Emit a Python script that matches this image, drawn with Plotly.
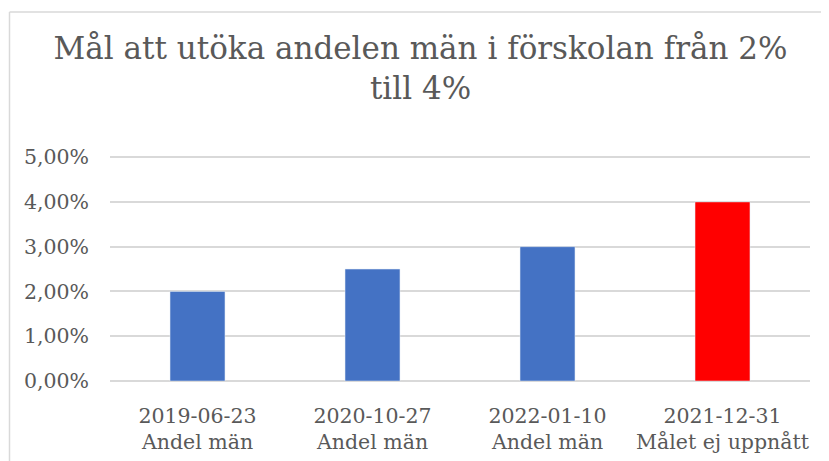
import plotly.graph_objects as go

categories = ["2019-06-23<br>Andel män", "2020-10-27<br>Andel män",
              "2022-01-10<br>Andel män", "2021-12-31<br>Målet ej uppnått"]
values = [0.02, 0.025, 0.03, 0.04]
colors = ["#4472C4", "#4472C4", "#4472C4", "#FF0000"]
tick_vals = [0, 0.01, 0.02, 0.03, 0.04, 0.05]
title_text = "Mål att utöka andelen män i förskolan från 2%<br>till 4%"

# page body has an 8px margin; figure is offset by it
OFF = 8
W, H = 829 - OFF, 461 - OFF
L, R, T, B = 110 - OFF, 19, 154 - OFF, 80
pw, ph = W - L - R, H - T - B

def px(x):
    return (x - OFF - L) / pw

def py(y):
    return (H - B - (y - OFF)) / ph

fig = go.Figure(go.Bar(x=categories, y=values, marker_color=colors,
                       width=0.314, hoverinfo="skip"))

fig.update_layout(
    width=W, height=H,
    margin=dict(l=L, r=R, t=T, b=B, pad=0, autoexpand=False),
    paper_bgcolor="white", plot_bgcolor="white",
    separators=",.",
    font=dict(family="DejaVu Serif", color="#595959", size=20.5),
    title=dict(text=title_text,
               x=(420.5 - OFF) / W, xanchor="center", xref="container",
               y=1 - (59 - OFF) / H, yanchor="middle", yref="container",
               font=dict(family="DejaVu Serif", size=31, color="#595959")),
    showlegend=False,
    xaxis=dict(showline=False, ticks="", ticklabelstandoff=20, automargin=False),
    yaxis=dict(range=[0, 0.0507], tickvals=tick_vals, tickformat=".2%",
               showgrid=True, gridcolor="#d9d9d9", gridwidth=1.5,
               zeroline=True, zerolinecolor="#d9d9d9", zerolinewidth=1.5,
               showline=False, ticks="", ticklabelstandoff=20, automargin=False),
    shapes=[
        dict(type="line", xref="paper", yref="paper",
             x0=px(9.5), x1=px(840), y0=py(12), y1=py(12),
             line=dict(color="#d9d9d9", width=1.5)),
        dict(type="line", xref="paper", yref="paper",
             x0=px(9.5), x1=px(9.5), y0=py(12), y1=py(470),
             line=dict(color="#d9d9d9", width=1.5)),
    ],
)

fig.write_html("out.html")
